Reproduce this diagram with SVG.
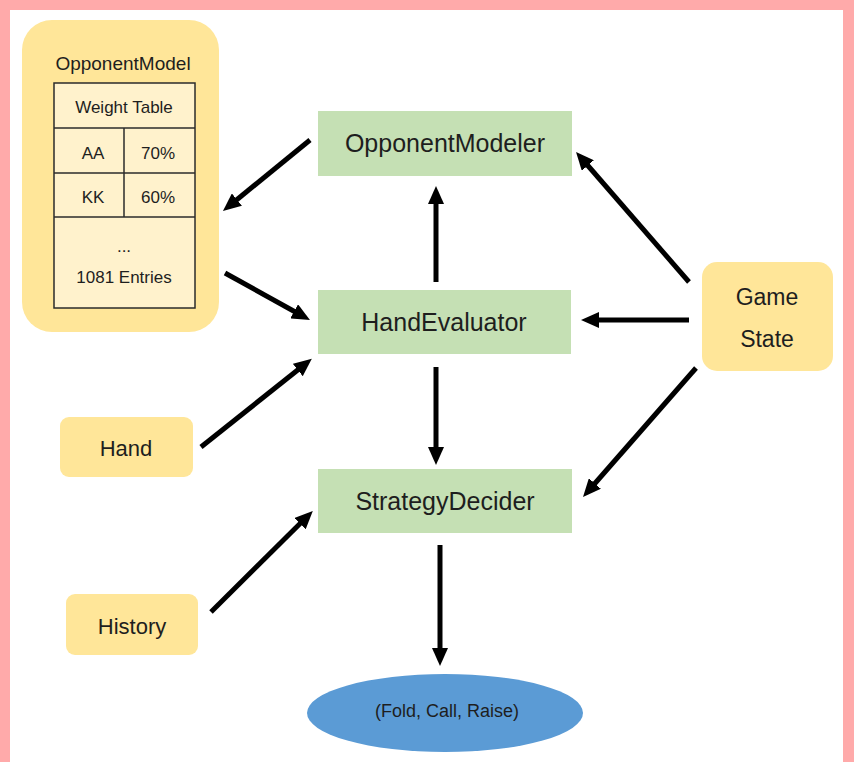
<svg xmlns="http://www.w3.org/2000/svg" width="854" height="762" viewBox="0 0 854 762">
<defs>
<style>
.t{font-family:"Liberation Sans",Arial,sans-serif;fill:#1e1e1e;text-anchor:middle}
.green{fill:#C5E0B4}
.yel{fill:#FFE699}
.cell{fill:#FFF2CC;stroke:#2b2b2b;stroke-width:1.5}
.arr{stroke:#000;stroke-width:5;fill:none;marker-end:url(#ah)}
</style>
<marker id="ah" markerUnits="userSpaceOnUse" viewBox="0 0 18 16" markerWidth="18" markerHeight="16" refX="8" refY="8" orient="auto">
<path d="M0,0 L18,8 L0,16 z" fill="#000"/>
</marker>
</defs>
<rect x="0" y="0" width="854" height="762" fill="#FFAAAA"/>
<rect x="10" y="10" width="833" height="752" fill="#FFFFFF"/>

<g id="opponent-model">
<rect class="yel" x="22" y="20" width="197" height="312" rx="30"/>
<text class="t" x="123" y="70" font-size="19">OpponentModel</text>
<rect class="cell" x="54" y="83" width="141" height="225"/>
<line x1="54" y1="128" x2="195" y2="128" stroke="#2b2b2b" stroke-width="1.5"/>
<line x1="54" y1="173" x2="195" y2="173" stroke="#2b2b2b" stroke-width="1.5"/>
<line x1="54" y1="217" x2="195" y2="217" stroke="#2b2b2b" stroke-width="1.5"/>
<line x1="124" y1="128" x2="124" y2="217" stroke="#2b2b2b" stroke-width="1.5"/>
<text class="t" x="124" y="113" font-size="17">Weight Table</text>
<text class="t" x="93" y="159" font-size="17">AA</text>
<text class="t" x="158" y="159" font-size="17">70%</text>
<text class="t" x="93" y="203" font-size="17">KK</text>
<text class="t" x="158" y="203" font-size="17">60%</text>
<text class="t" x="124" y="252" font-size="17">...</text>
<text class="t" x="124" y="283" font-size="17">1081 Entries</text>
</g>

<g id="opponent-modeler">
<rect class="green" x="318" y="111" width="254" height="65"/>
<text class="t" x="445" y="152" font-size="25">OpponentModeler</text>
</g>

<g id="hand-evaluator">
<rect class="green" x="318" y="290" width="253" height="64"/>
<text class="t" x="444" y="331" font-size="25">HandEvaluator</text>
</g>

<g id="strategy-decider">
<rect class="green" x="318" y="469" width="254" height="64"/>
<text class="t" x="445" y="510" font-size="25">StrategyDecider</text>
</g>

<g id="game-state">
<rect class="yel" x="702" y="262" width="131" height="109" rx="15"/>
<text class="t" x="767" y="305" font-size="23">Game</text>
<text class="t" x="767" y="347" font-size="23">State</text>
</g>

<g id="hand">
<rect class="yel" x="60" y="417" width="133" height="60" rx="9"/>
<text class="t" x="126" y="456" font-size="22">Hand</text>
</g>

<g id="history">
<rect class="yel" x="66" y="594" width="132" height="61" rx="9"/>
<text class="t" x="132" y="634" font-size="22">History</text>
</g>

<g id="action">
<ellipse cx="445" cy="713" rx="138" ry="39" fill="#5B9BD5"/>
<text class="t" x="447" y="717" font-size="18">(Fold, Call, Raise)</text>
</g>

<g id="connectors">
<line class="arr" x1="310" y1="140" x2="230.7" y2="204.7"/>
<line class="arr" x1="225" y1="273" x2="301.2" y2="315.2"/>
<line class="arr" x1="436" y1="282" x2="436" y2="196"/>
<line class="arr" x1="689" y1="282" x2="582.6" y2="159.5"/>
<line class="arr" x1="689" y1="320" x2="591" y2="320"/>
<line class="arr" x1="696" y1="368" x2="589.6" y2="489.5"/>
<line class="arr" x1="201" y1="447" x2="304" y2="365"/>
<line class="arr" x1="436" y1="367" x2="436" y2="455"/>
<line class="arr" x1="211" y1="612" x2="305.7" y2="518"/>
<line class="arr" x1="440" y1="545" x2="440" y2="656"/>
</g>
</svg>
